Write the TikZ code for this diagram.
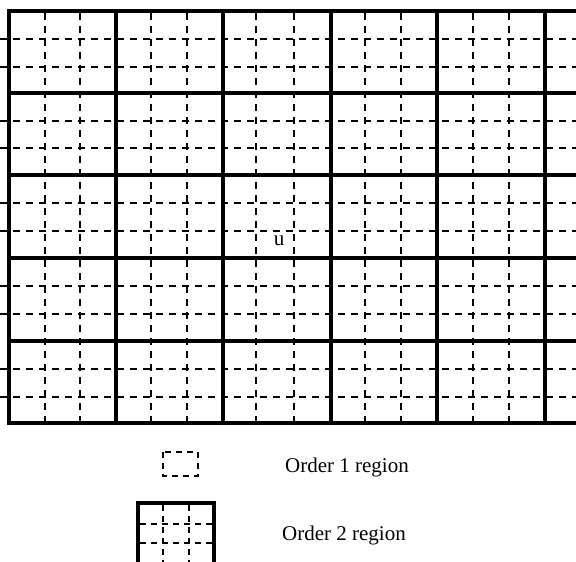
\documentclass[tikz,border=0pt]{standalone}
\usepackage{fontspec}
\setmainfont{Liberation Serif}
\begin{document}
\begin{tikzpicture}[x=1pt,y=-1pt,
  thickline/.style={line width=3.5pt, line cap=rect},
  dashline/.style={line width=1.3pt, dash pattern=on 7pt off 6pt},
  lbl/.style={font=\fontsize{21}{24}\selectfont, inner sep=0pt}]
\useasboundingbox (0,0) rectangle (576,562);
\begin{scope}
\clip (0,0) rectangle (576,562);
% order 1 (dashed) grid lines
\foreach \y in {39,67,121,148,203,231,286,314,369,397}
  \draw[dashline] (0,\y) -- (576,\y);
\foreach \x in {45,80,151,187,256,294,365,401,473,509}
  \draw[dashline] (\x,13) -- (\x,428);
% order 2 (thick) grid lines
\foreach \y in {11,93,175,258,341,423}
  \draw[thickline] (9,\y) -- (580,\y);
\foreach \x in {9,116,223,331,437,545}
  \draw[thickline] (\x,11) -- (\x,423);
\node[lbl, anchor=base] (u) at (279,245) {u};
% legend: order 1
\draw[dashline, dash pattern=on 6pt off 5pt] (163,452) rectangle (198,476);
\node[lbl, anchor=base west] (o1) at (285,472) {Order 1 region};
% legend: order 2
\foreach \y in {524,543}
  \draw[dashline, dash pattern=on 6pt off 5pt] (140,\y) -- (212,\y);
\foreach \x in {163,189}
  \draw[dashline, dash pattern=on 6pt off 5pt] (\x,505) -- (\x,566);
\draw[thickline] (138,503) rectangle (214,575);
\node[lbl, anchor=base west] (o2) at (282,540) {Order 2 region};
\end{scope}
\end{tikzpicture}
\end{document}
